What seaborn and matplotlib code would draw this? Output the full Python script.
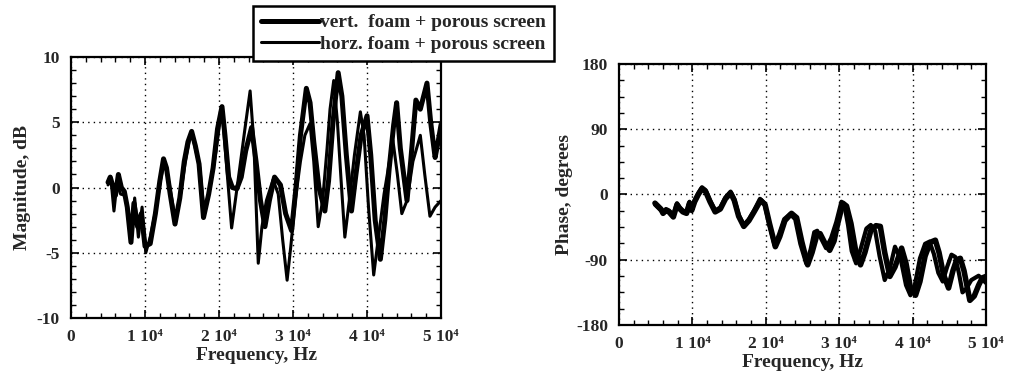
import numpy as np
import pandas as pd
import matplotlib
matplotlib.use("Agg")
import matplotlib.pyplot as plt
from matplotlib.ticker import MultipleLocator, FixedLocator, FixedFormatter
import seaborn as sns

# ---------------- data (frequency in kHz) ----------------
mag_vert_f = [5.0, 5.3, 5.6, 6.0, 6.4, 6.8, 7.2, 7.6, 8.1, 8.5, 9.0, 9.5, 10.0, 10.7, 11.4, 12.0,
              12.5, 12.9, 13.4, 14.05, 14.7, 15.3, 15.8, 16.3, 16.8, 17.3, 17.9, 18.6, 19.2, 19.8,
              20.4, 20.8, 21.3, 21.8, 22.4, 23.0, 23.6, 24.4, 25.0, 25.6, 26.2, 26.8, 27.5, 28.3,
              29.0, 29.8, 30.4, 31.0, 31.8, 32.3, 32.8, 33.5, 34.3, 34.8, 35.4, 36.1, 36.6, 37.2,
              37.9, 38.5, 39.2, 40.0, 40.5, 41.1, 41.8, 42.4, 43.0, 43.6, 44.0, 44.5, 45.4, 45.9,
              46.6, 47.2, 48.1, 48.6, 49.2, 49.6, 50.0]
mag_vert = [0.4, 0.8, 0.2, -0.6, 1.0, 0.0, -0.3, -1.5, -4.2, -1.2, -3.0, -2.0, -4.5, -4.3, -2.0, 0.5,
            2.2, 1.5, -0.5, -2.8, -0.8, 2.0, 3.5, 4.3, 3.2, 1.8, -2.3, -0.5, 1.5, 4.5,
            6.2, 4.0, 0.8, 0.0, -0.1, 0.8, 2.8, 4.6, 2.0, -1.0, -3.0, -1.0, 0.8, 0.2,
            -2.0, -3.3, 0.0, 4.0, 7.6, 6.5, 3.5, 0.0, -1.8, 0.5, 5.0, 8.8, 7.0, 2.5,
            -1.8, 1.0, 4.0, 5.5, 2.5, -2.5, -5.5, -2.5, 1.5, 4.8, 6.5, 3.0, -1.0, 2.0,
            6.7, 6.0, 8.0, 5.0, 2.3, 3.5, 4.8]

mag_horz_f = [5.0, 5.4, 5.8, 6.2, 6.7, 7.3, 7.8, 8.2, 8.6, 9.1, 9.6, 10.1, 10.7, 11.5, 12.1, 12.6,
              13.3, 14.1, 14.8, 15.4, 16.0, 16.4, 17.4, 18.0, 18.7, 19.6, 20.1, 20.4, 20.9, 21.7,
              22.2, 22.8, 23.5, 24.2, 24.7, 25.3, 25.8, 26.4, 27.3, 28.0, 28.6, 29.2, 29.7, 30.3,
              31.0, 31.6, 32.3, 32.8, 33.4, 34.0, 34.6, 35.0, 35.5, 36.0, 36.5, 37.0, 37.6, 38.3,
              39.1, 39.6, 40.2, 40.9, 41.5, 42.3, 43.5, 44.1, 44.7, 45.4, 46.2, 47.2, 47.8, 48.5,
              49.2, 50.0]
mag_horz = [0.2, 0.6, -1.8, 0.3, -0.5, -0.6, -2.0, -3.5, -0.8, -3.8, -1.5, -5.0, -3.8, -1.6, 0.6, 2.0,
            0.2, -2.5, -0.5, 1.8, 3.6, 4.0, 1.5, -2.0, -0.2, 2.8, 5.0, 6.0, 2.5, -3.1,
            -1.0, 1.5, 4.5, 7.4, 3.5, -5.8, -3.0, -1.0, 0.6, -0.5, -4.0, -7.1, -4.5, -1.0,
            2.0, 4.0, 4.9, 2.0, -3.0, -1.0, 3.0, 6.0, 8.2, 5.0, 0.5, -3.8, -1.0, 2.5,
            5.8, 4.0, -1.5, -6.7, -4.0, -0.5, 3.6, 1.0, -2.0, -1.0, 2.0, 4.0, 1.0, -2.2,
            -1.5, -1.0]

ph_vert_f = [4.9, 5.3, 5.7, 6.0, 6.4, 6.8, 7.4, 7.9, 8.3, 8.7, 9.2, 9.6, 9.9, 10.3, 10.8, 11.3,
             11.8, 12.4, 13.1, 13.8, 14.5, 15.2, 15.7, 16.3, 17.0, 17.7, 18.4, 19.3, 19.9, 20.5,
             21.3, 21.9, 22.6, 23.5, 24.2, 24.9, 25.7, 26.3, 26.9, 27.4, 28.0, 28.7, 29.3, 29.8,
             30.5, 31.0, 31.6, 32.2, 32.9, 33.5, 34.3, 35.0, 35.6, 36.2, 36.9, 37.6, 38.5, 39.1,
             39.7, 40.4, 41.0, 41.7, 42.4, 43.1, 43.6, 44.2, 44.9, 45.5, 46.0, 46.5, 47.0, 47.8,
             48.4, 49.0, 49.5, 50.0]
ph_vert = [-12, -16, -20, -26, -22, -24, -31, -14, -20, -24, -26, -12, -22, -10, 0, 8,
           4, -10, -24, -20, -6, 2, -8, -30, -44, -36, -24, -8, -14, -40,
           -72, -58, -36, -26, -32, -65, -97, -80, -58, -54, -66, -77, -64, -40,
           -12, -16, -40, -75, -97, -80, -50, -43, -44, -80, -113, -100, -74, -95,
           -128, -139, -120, -85, -66, -63, -80, -110, -129, -105, -90, -88, -105, -146,
           -140, -125, -115, -113]

ph_horz_f = [4.9, 5.3, 5.7, 6.0, 6.4, 6.8, 7.4, 7.9, 8.3, 8.7, 9.2, 9.6, 9.9, 10.3, 10.8, 11.3,
             11.8, 12.4, 13.1, 13.8, 14.5, 15.2, 15.7, 16.3, 17.0, 17.7, 18.4, 19.2, 19.8, 20.4,
             21.2, 21.8, 22.5, 23.3, 24.0, 24.7, 25.5, 26.1, 26.6, 27.0, 27.6, 28.2, 28.9, 29.6,
             30.3, 30.8, 31.2, 31.7, 32.3, 32.9, 33.7, 34.3, 34.9, 35.5, 36.2, 36.9, 37.6, 38.4,
             39.1, 39.7, 40.3, 41.0, 41.7, 42.3, 42.9, 43.5, 44.1, 44.7, 45.3, 45.8, 46.3, 46.8,
             47.3, 48.0, 49.0, 50.0]
ph_horz = [-14, -18, -22, -24, -20, -22, -28, -12, -18, -22, -24, -10, -20, -8, 2, 10,
           6, -8, -22, -18, -4, 4, -6, -28, -42, -34, -22, -6, -12, -38,
           -70, -55, -34, -27, -34, -68, -95, -76, -52, -50, -62, -74, -60, -38,
           -10, -20, -42, -78, -95, -76, -47, -42, -50, -85, -118, -102, -72, -90,
           -125, -139, -125, -88, -68, -65, -82, -108, -120, -100, -83, -86, -108, -135,
           -130, -118, -112, -122]

mag_ticks = [-10, -5, 0, 5, 10]
ph_ticks = [-180, -90, 0, 90, 180]
freq_ticks = [0, 10000, 20000, 30000, 40000, 50000]
freq_labels = ["0", "1 10\u2074", "2 10\u2074", "3 10\u2074", "4 10\u2074", "5 10\u2074"]
series_names = ["vert.  foam + porous screen", "horz. foam + porous screen"]

# ---------------- style ----------------
sns.set_theme(style="white")
plt.rcParams["font.family"] = ["Liberation Serif", "DejaVu Serif"]
plt.rcParams["font.weight"] = "bold"
plt.rcParams["axes.labelweight"] = "bold"
plt.rcParams["axes.unicode_minus"] = False

fig = plt.figure(figsize=(10.09, 3.80), dpi=100)
ax1 = fig.add_axes([0.0704, 0.163, 0.3667, 0.687])
ax2 = fig.add_axes([0.6135, 0.1447, 0.3637, 0.687])


def frame(f, v):
    return pd.DataFrame({"f": np.asarray(f) * 1000.0, "v": v})


line_kw = dict(color="black", estimator=None, sort=False, legend=False,
               solid_joinstyle="round", solid_capstyle="round")
sns.lineplot(data=frame(mag_vert_f, mag_vert), x="f", y="v", ax=ax1, lw=3.6,
             label=series_names[0], **line_kw)
sns.lineplot(data=frame(mag_horz_f, mag_horz), x="f", y="v", ax=ax1, lw=2.2,
             label=series_names[1], **line_kw)
sns.lineplot(data=frame(ph_vert_f, ph_vert), x="f", y="v", ax=ax2, lw=4.0, **line_kw)
sns.lineplot(data=frame(ph_horz_f, ph_horz), x="f", y="v", ax=ax2, lw=3.0, **line_kw)


def style_axes(ax, yticks, yminor, ylabel):
    ax.set_xlim(0, 50000)
    ax.set_ylim(yticks[0], yticks[-1])
    ax.xaxis.set_major_locator(FixedLocator(freq_ticks))
    ax.xaxis.set_major_formatter(FixedFormatter(freq_labels))
    ax.xaxis.set_minor_locator(MultipleLocator(2000))
    ax.yaxis.set_major_locator(FixedLocator(yticks))
    ax.yaxis.set_minor_locator(MultipleLocator(yminor))
    ax.tick_params(which="both", direction="in", top=True, right=True, bottom=True, left=True,
                   color="black")
    ax.tick_params(which="major", length=6, width=1.2, labelsize=12.5, pad=8)
    ax.tick_params(which="minor", length=3.5, width=1.0)
    for lab in ax.get_xticklabels() + ax.get_yticklabels():
        lab.set_fontweight("bold")
    for s in ax.spines.values():
        s.set_visible(True)
        s.set_color("black")
        s.set_linewidth(1.6)
    ax.grid(True, which="major", color="black", linestyle=(0, (1, 3)), linewidth=1.0)
    ax.set_xlabel("Frequency, Hz", fontsize=14, fontweight="bold", labelpad=1)
    ax.set_ylabel(ylabel, fontsize=14, fontweight="bold", labelpad=4)


style_axes(ax1, mag_ticks, 1, "Magnitude, dB")
style_axes(ax2, ph_ticks, 22.5, "Phase, degrees")
ax2.yaxis.labelpad = 2

handles, labels = ax1.get_legend_handles_labels()
leg = fig.legend(handles, labels, loc="upper right", bbox_to_anchor=(0.549, 0.984),
                 frameon=True, fancybox=False, framealpha=1, edgecolor="black",
                 handlelength=3.0, handletextpad=0.05, borderpad=0.4, labelspacing=0.2,
                 borderaxespad=0.0,
                 prop={"family": ["Liberation Serif", "DejaVu Serif"], "weight": "bold", "size": 14})
leg.get_frame().set_linewidth(1.8)
leg.set_zorder(10)

fig.savefig("out.png", dpi=100, facecolor="white")
